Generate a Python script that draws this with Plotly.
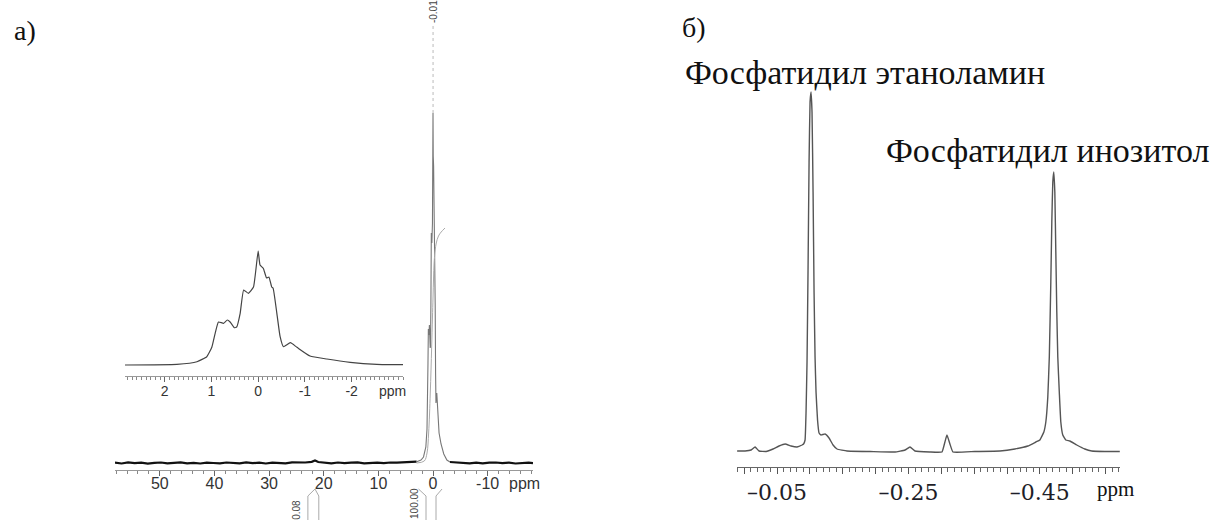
import plotly.graph_objects as go

W, H = 1229, 520

# ---------------- Panel a) : 31P spectrum, full range ----------------
main_ppm = [58.2, 57.0, 55.8, 54.6, 53.4, 52.2, 51.0, 49.8, 48.6, 47.4, 46.2, 45.0,
            43.8, 42.6, 41.4, 40.2, 39.0, 37.8, 36.6, 35.4, 34.2, 33.0, 31.8, 30.6,
            29.4, 28.2, 27.0, 25.8, 24.6, 23.4, 22.2, 21.6, 21.0, 19.8, 18.6, 17.4,
            16.2, 15.0, 13.8, 12.6, 11.4, 10.2, 9.0, 7.8, 6.6, 5.4, 4.2, 3.0,
            2.85, 2.2, 1.74, 1.31, 1.10, 0.99, 0.92, 0.85, 0.74, 0.66, 0.58, 0.51,
            0.46, 0.385, 0.31, 0.21, 0.10, 0.0, -0.04, -0.11, -0.18, -0.23, -0.29,
            -0.32, -0.40, -0.47, -0.54, -0.69, -0.83, -1.11, -1.47, -1.97, -2.54,
            -3.1, -4.3, -5.5, -6.7, -7.9, -9.1, -10.3, -11.5, -12.7, -13.9, -15.1,
            -16.3, -17.5, -18.3]
main_int = [0.3, -0.5, 0.6, -0.2, 0.4, -0.6, 0.2, 0.5, -0.4, 0.1, 0.6, -0.3,
            0.2, -0.5, 0.4, 0.0, -0.4, 0.5, 0.2, -0.3, 0.6, -0.2, 0.3, -0.5,
            0.4, 0.1, -0.3, 0.6, 0.2, 0.5, 1.2, 2.5, 1.0, 0.3, -0.4, 0.5,
            -0.2, 0.3, 0.6, -0.3, 0.2, 0.4, -0.2, 0.5, 0.3, 0.6, 0.9, 1.3,
            1.5, 3, 6, 16, 34, 62, 100, 134, 128, 138, 130, 115,
            117, 159, 230, 220, 240, 350, 307, 297, 267, 270, 240,
            235, 159, 90, 60, 70, 56, 30, 19, 9, 3,
            1.0, 0.6, 0.2, -0.3, 0.4, -0.4, 0.3, 0.5, -0.2, 0.4, -0.5,
            0.2, 0.4, -0.2]

# integral curve
integral_ppm = [3.0, 1.6, 1.1, 0.8, 0.5, 0.25, 0.1, 0.0, -0.1, -0.2, -0.4, -0.6, -1.0, -1.5, -2.2]
integral_val = [0, 2, 10, 30, 70, 115, 145, 165, 185, 200, 213, 220, 227, 231, 235]

# integration regions (ppm) and their values
int_top_left = [21.6, 2.65]
int_top_right = [21.6, -1.65]
int_bot_left = [22.9, 1.28]
int_bot_right = [20.9, -0.55]
int_labels = ["0.08", "100.00"]

peak_label_ppm = -0.01
peak_label = "-0.01"

main_ticks = [50, 40, 30, 20, 10, 0, -10]

# inset (expanded region)
inset_ppm = [2.85, 1.74, 1.31, 1.10, 0.99, 0.92, 0.85, 0.74, 0.66, 0.60, 0.51, 0.46,
             0.385, 0.31, 0.21, 0.10, 0.0, -0.04, -0.11, -0.18, -0.23, -0.29, -0.32,
             -0.40, -0.47, -0.54, -0.69, -0.83, -1.11, -1.47, -1.97, -2.54, -3.1]
inset_int = [0, 0.7, 3.3, 8.3, 18, 31.7, 43, 41.7, 45, 43, 37.3, 38,
             51.7, 75, 71.7, 78, 114, 100, 96.7, 87, 88, 78, 76.7,
             51.7, 28.3, 18.3, 22.3, 17.7, 9, 6, 2.7, 0.7, 0.3]
inset_ticks = [2, 1, 0, -1, -2]

# ---------------- Panel б) : phospholipid region ----------------
b_ppm = [0.0108, -0.0013, -0.0105, -0.0165, -0.0226, -0.0333, -0.0439, -0.053, -0.0622,
         -0.0713, -0.0804, -0.088, -0.0903, -0.0926, -0.0941, -0.0956, -0.0971, -0.0987,
         -0.1002, -0.1017, -0.1032, -0.1048, -0.1063, -0.1078, -0.1093, -0.1116, -0.1139,
         -0.1169, -0.123, -0.1291, -0.1352, -0.1413, -0.1565, -0.1914, -0.2295, -0.2447,
         -0.2523, -0.2599, -0.2827, -0.301, -0.3055, -0.3086, -0.3131, -0.3177, -0.3511,
         -0.3892, -0.412, -0.4317, -0.4439, -0.45, -0.4561, -0.4591, -0.4621, -0.4644,
         -0.4667, -0.4682, -0.4697, -0.4712, -0.4728, -0.4743, -0.4758, -0.4773, -0.4796,
         -0.4819, -0.4849, -0.4895, -0.4956, -0.5062, -0.5184, -0.529, -0.5489, -0.5717]
b_int = [1, 1, 2, 5, 1, 0.5, 3, 6, 8,
         6, 5, 7, 8, 12, 40, 90, 180, 290,
         350, 360, 340, 260, 160, 95, 60, 32, 19,
         17, 18, 14, 7, 3, 1, 0.5, 0, 2,
         5, 1, 0, 0, 10, 17, 8, 0, 0.5,
         1, 3, 6, 10, 12, 20, 30, 55, 95,
         170, 230, 270, 280, 260, 200, 140, 95, 60,
         30, 17, 12, 11, 7, 3, 1, 0.5, 0.5]
b_tickvals = [0.0, -0.05, -0.10, -0.15, -0.20, -0.25, -0.30, -0.35, -0.40, -0.45, -0.50, -0.55]
b_ticktext = ["", "\u20130.05", "", "", "", "\u20130.25", "", "", "", "\u20130.45", "", ""]
label_pe = "Фосфатидил этаноламин"
label_pi = "Фосфатидил инозитол"


def px(x):
    return x / W


def py(y):
    return 1 - y / H


fig = go.Figure()

# main spectrum: baseline parts thick/dark, core thin/grey
core = [i for i, p in enumerate(main_ppm) if -3.2 <= p <= 3.05]
i0, i1 = core[0], core[-1]
fig.add_trace(go.Scatter(x=main_ppm[:i0 + 1], y=main_int[:i0 + 1], mode="lines",
                         line=dict(color="#111", width=2.2), xaxis="x", yaxis="y"))
fig.add_trace(go.Scatter(x=main_ppm[i1:], y=main_int[i1:], mode="lines",
                         line=dict(color="#111", width=2.2), xaxis="x", yaxis="y"))
fig.add_trace(go.Scatter(x=main_ppm[i0:i1 + 1], y=main_int[i0:i1 + 1], mode="lines",
                         line=dict(color="#777", width=1.1), xaxis="x", yaxis="y"))
fig.add_trace(go.Scatter(x=integral_ppm, y=integral_val, mode="lines",
                         line=dict(color="#aaa", width=1, shape="spline"), xaxis="x", yaxis="y"))
# leader from peak to its label
fig.add_trace(go.Scatter(x=[peak_label_ppm, peak_label_ppm], y=[max(main_int), 440],
                         mode="lines", line=dict(color="#bbb", width=1, dash="dot"),
                         xaxis="x", yaxis="y"))
# integration region marks under the axis
for tl, tr, bl, br in zip(int_top_left, int_top_right, int_bot_left, int_bot_right):
    for a, b in ((tl, bl), (tr, br)):
        fig.add_trace(go.Scatter(x=[a, b, b], y=[-26, -33, -70], mode="lines",
                                 line=dict(color="#aaa", width=1), xaxis="x", yaxis="y"))

# inset spectrum
fig.add_trace(go.Scatter(x=inset_ppm, y=inset_int, mode="lines",
                         line=dict(color="#444", width=1.2, shape="spline", smoothing=0.4),
                         xaxis="x2", yaxis="y2"))

# panel б spectrum
fig.add_trace(go.Scatter(x=b_ppm, y=b_int, mode="lines",
                         line=dict(color="#555", width=1.4, shape="spline", smoothing=0.3),
                         xaxis="x3", yaxis="y3"))

sans_axis = dict(family="Liberation Sans, Arial, sans-serif", size=16, color="#333")

fig.update_layout(
    width=W, height=H, margin=dict(l=0, r=0, t=0, b=0),
    paper_bgcolor="white", plot_bgcolor="rgba(0,0,0,0)", showlegend=False,
    xaxis=dict(domain=[px(115), px(533)], range=[58.2, -18.3], anchor="free", position=50 / H,
               showline=True, linecolor="#999", linewidth=1, ticks="outside", ticklen=5,
               tickcolor="#666", tickvals=main_ticks, ticktext=[str(t) for t in main_ticks],
               tickfont=sans_axis, showgrid=False, zeroline=False, ticklabelstandoff=-6,
               minor=dict(dtick=2, tick0=0, ticks="outside", ticklen=3, tickcolor="#888", showgrid=False)),
    yaxis=dict(domain=[0, 1], range=[-57, 463], visible=False, anchor="free", position=0),
    xaxis2=dict(domain=[px(125), px(403)], range=[2.85, -3.1], anchor="free", position=(H - 376) / H,
                showline=True, linecolor="#999", linewidth=1, ticks="outside", ticklen=5,
                tickcolor="#666", tickvals=inset_ticks, ticktext=[str(t) for t in inset_ticks],
                tickfont=dict(family="Liberation Sans, Arial, sans-serif", size=14, color="#333"),
                showgrid=False, zeroline=False, ticklabelstandoff=-3,
                minor=dict(dtick=0.1, tick0=0, ticks="outside", ticklen=3, tickcolor="#888", showgrid=False)),
    yaxis2=dict(domain=[0, 1], range=[-155, 365], visible=False, anchor="free", position=0),
    xaxis3=dict(domain=[px(737), px(1120)], range=[0.011, -0.572], anchor="free", position=(H - 467) / H,
                showline=True, linecolor="#666", linewidth=1, ticks="outside", ticklen=6,
                tickcolor="#555", tickvals=b_tickvals, ticktext=b_ticktext,
                tickfont=dict(family="DejaVu Serif, serif", size=22, color="#1e1e28"),
                showgrid=False, zeroline=False,
                minor=dict(dtick=0.01, tick0=0, ticks="outside", ticklen=3.5, tickcolor="#666", showgrid=False)),
    yaxis3=dict(domain=[0, 1], range=[-68, 452], visible=False, anchor="free", position=0),
)

serif = "Liberation Serif, Times New Roman, serif"
ann = []
ann.append(dict(text="а)", x=px(12), y=py(30), xref="paper", yref="paper", xanchor="left",
                yanchor="middle", showarrow=False, font=dict(family=serif, size=28, color="#111")))
ann.append(dict(text="б)", x=px(680), y=py(27), xref="paper", yref="paper", xanchor="left",
                yanchor="middle", showarrow=False, font=dict(family=serif, size=28, color="#111")))
ann.append(dict(text=label_pe, x=px(683), y=py(73), xref="paper", yref="paper", xanchor="left",
                yanchor="middle", showarrow=False, font=dict(family=serif, size=34, color="#111")))
ann.append(dict(text=label_pi, x=px(884), y=py(150), xref="paper", yref="paper", xanchor="left",
                yanchor="middle", showarrow=False, font=dict(family=serif, size=34, color="#111")))
ann.append(dict(text="ppm", x=px(1115), y=py(489), xref="paper", yref="paper", xanchor="center",
                yanchor="middle", showarrow=False, font=dict(family=serif, size=21, color="#111")))
ann.append(dict(text="ppm", x=px(524), y=py(483), xref="paper", yref="paper", xanchor="center",
                yanchor="middle", showarrow=False, font=sans_axis))
ann.append(dict(text="ppm", x=px(393), y=py(391), xref="paper", yref="paper", xanchor="center",
                yanchor="middle", showarrow=False,
                font=dict(family="Liberation Sans, Arial, sans-serif", size=14, color="#333")))
ann.append(dict(text=peak_label, x=peak_label_ppm, y=py(12), xref="x", yref="paper",
                xanchor="center", yanchor="middle", textangle=-90, showarrow=False,
                font=dict(family="Liberation Sans, Arial, sans-serif", size=10, color="#444")))
for bl, lab, yc in zip(int_bot_left, int_labels, [510, 503]):
    ann.append(dict(text=lab, x=bl + 2.2, y=py(yc), xref="x", yref="paper",
                    xanchor="center", yanchor="middle", textangle=-90, showarrow=False,
                    font=dict(family="Liberation Sans, Arial, sans-serif", size=10, color="#444")))
fig.update_layout(annotations=ann)

fig.write_html("out.html", config={"displayModeBar": False},
               post_script="document.body.style.margin='0px';document.body.style.overflow='hidden';")
